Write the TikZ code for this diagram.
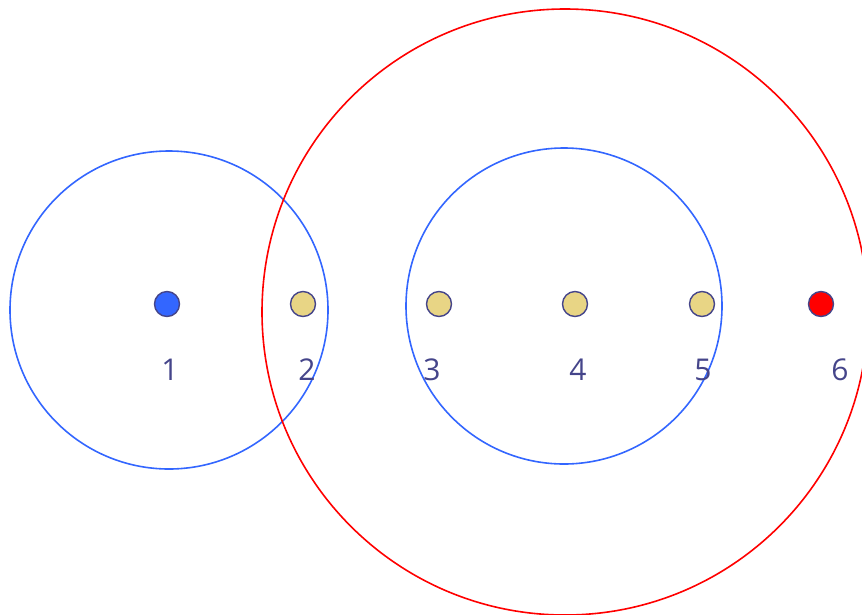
\documentclass[tikz,border=0pt]{standalone}
\usepackage{fontspec}
\setmainfont{Open Sans}
\definecolor{ringblue}{HTML}{3366FF}
\definecolor{ringred}{HTML}{FF0000}
\definecolor{dotedge}{HTML}{45458A}
\definecolor{dotsand}{HTML}{E8D585}
\definecolor{labelcol}{HTML}{45458A}
\begin{document}
\begin{tikzpicture}[x=1pt,y=-1pt,
  ring/.style={line width=1.6pt},
  dot/.style={circle,draw=dotedge,line width=1.4pt,minimum size=25pt,inner sep=0pt},
  lbl/.style={text=labelcol,font=\fontsize{30}{30}\selectfont\addfontfeature{}}]
\useasboundingbox (0,0) rectangle (862,614);
\clip (0,0) rectangle (862,614);
\draw[ring,ringblue] (169,310) circle[radius=159];
\draw[ring,ringblue] (564,306) circle[radius=158];
\draw[ring,ringred] (565,312) circle[radius=303];
\node[dot,fill=ringblue] (d1) at (167,304) {};
\node[dot,fill=dotsand] (d2) at (303,304) {};
\node[dot,fill=dotsand] (d3) at (439,304) {};
\node[dot,fill=dotsand] (d4) at (575,304) {};
\node[dot,fill=dotsand] (d5) at (702,304) {};
\node[dot,fill=ringred] (d6) at (821,304) {};
\node[lbl] (l1) at (170,370) {1};
\node[lbl] (l2) at (307,370) {2};
\node[lbl] (l3) at (432,370) {3};
\node[lbl] (l4) at (578,370) {4};
\node[lbl] (l5) at (703,370) {5};
\node[lbl] (l6) at (840,370) {6};
\end{tikzpicture}
\end{document}
